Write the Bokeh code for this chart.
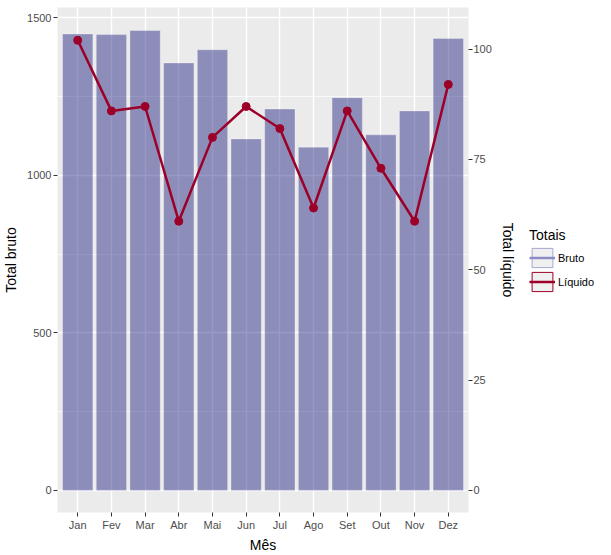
from bokeh.plotting import figure
from bokeh.models import (Range1d, FactorRange, LinearAxis, FixedTicker, Legend, LegendItem)
from bokeh.layouts import row
from bokeh.embed import file_html
from bokeh.resources import INLINE

meses = ["Jan", "Fev", "Mar", "Abr", "Mai", "Jun", "Jul", "Ago", "Set", "Out", "Nov", "Dez"]
bruto = [1448, 1446, 1459, 1356, 1398, 1115, 1210, 1089, 1246, 1128, 1204, 1434]
liquido = [102, 86, 87, 61, 80, 87, 82, 64, 86, 73, 61, 92]
bruto_ticks = [0, 500, 1000, 1500]
bruto_minor = [250, 750, 1250]
liquido_ticks = [0, 25, 50, 75, 100]
escala = 14.0  # bruto units per liquido unit (secondary axis)
series_names = ["Bruto", "Líquido"]

FONT = "Liberation Sans"
BAR_FILL = "#000070"
RED = "#9C0028"

y0, y1 = -70, 1532

p = figure(width=520, height=555, output_backend="svg", toolbar_location=None,
           x_range=FactorRange(factors=meses, range_padding=0.1, range_padding_units="absolute"),
           y_range=Range1d(y0, y1),
           min_border_left=57, min_border_right=52, min_border_top=7, min_border_bottom=41)
p.extra_y_ranges = {"liq": Range1d(y0 / escala, y1 / escala)}

p.background_fill_color = "#EBEBEB"
p.border_fill_color = "white"
p.outline_line_color = None

# grids
p.xgrid.grid_line_color = "white"
p.xgrid.grid_line_width = 1.4
p.ygrid.grid_line_color = "white"
p.ygrid.grid_line_width = 1.4
p.ygrid.minor_grid_line_color = "white"
p.ygrid.minor_grid_line_width = 0.7
p.ygrid.ticker = FixedTicker(ticks=bruto_ticks, minor_ticks=bruto_minor)

# bars
p.vbar(x=meses, top=bruto, width=0.9, fill_color=BAR_FILL, fill_alpha=0.4,
       line_color="white", line_alpha=0.3, line_width=1)

# line + points
p.line(x=meses, y=liquido, y_range_name="liq", line_color=RED, line_width=2.5)
p.scatter(x=meses, y=liquido, y_range_name="liq", size=8, fill_color=RED, line_color=RED)

def style_axis(ax):
    ax.axis_line_color = None
    ax.major_tick_line_color = "#333333"
    ax.major_tick_line_width = 1
    ax.major_tick_in = 0
    ax.major_tick_out = 4
    ax.minor_tick_line_color = None
    ax.major_label_text_font = FONT
    ax.major_label_text_font_size = "11px"
    ax.major_label_text_color = "#4D4D4D"
    ax.axis_label_text_font = FONT
    ax.axis_label_text_font_size = "14px"
    ax.axis_label_text_font_style = "normal"
    ax.axis_label_text_color = "black"

# left axis
yax = p.yaxis[0]
yax.ticker = FixedTicker(ticks=bruto_ticks, minor_ticks=bruto_minor)
yax.axis_label = "Total bruto"
style_axis(yax)
yax.major_label_standoff = 2
yax.axis_label_standoff = 5

# bottom axis
xax = p.xaxis[0]
xax.axis_label = "Mês"
style_axis(xax)
xax.major_label_standoff = 2
xax.axis_label_standoff = 3

# right axis
rax = LinearAxis(y_range_name="liq", ticker=FixedTicker(ticks=liquido_ticks), axis_label="Total líquido")
style_axis(rax)
rax.major_label_standoff = 1
rax.axis_label_standoff = 5
p.add_layout(rax, "right")

# legend figure (key glyphs are placed outside its visible range)
lf = figure(width=91, height=555, output_backend="svg", toolbar_location=None,
            x_range=Range1d(0, 1), y_range=Range1d(0, 1),
            min_border_left=0, min_border_right=0, min_border_top=7, min_border_bottom=41)
lf.axis.visible = False
lf.grid.visible = False
lf.outline_line_color = None
lf.background_fill_color = "white"
lf.border_fill_color = "white"

off = [-5]
kb_box = lf.rect(x=off, y=off, width=0.1, height=0.1, fill_color="#F0F0F0", line_color="#A6A6D2", line_width=1)
kb_line = lf.line(x=off, y=off, line_color="#8C8CC6", line_width=2.5)
kl_box = lf.rect(x=off, y=off, width=0.1, height=0.1, fill_color="#F0F0F0", line_color=RED, line_width=1)
kl_line = lf.line(x=off, y=off, line_color=RED, line_width=2.5)

legend = Legend(items=[LegendItem(label=series_names[0], renderers=[kb_box, kb_line]),
                       LegendItem(label=series_names[1], renderers=[kl_box, kl_line])],
                title="Totais", location="center_left")
legend.title_text_font = FONT
legend.title_text_font_size = "14px"
legend.title_text_font_style = "normal"
legend.title_text_color = "black"
legend.title_standoff = 3
legend.label_text_font = FONT
legend.label_text_font_size = "11px"
legend.label_text_color = "black"
legend.glyph_width = 26
legend.glyph_height = 24
legend.spacing = 0
legend.label_standoff = 3
legend.padding = 10
legend.margin = 9
legend.border_line_color = None
legend.background_fill_alpha = 0
lf.add_layout(legend)

layout = row(p, lf)
open("out.html", "w").write(file_html(layout, INLINE))
